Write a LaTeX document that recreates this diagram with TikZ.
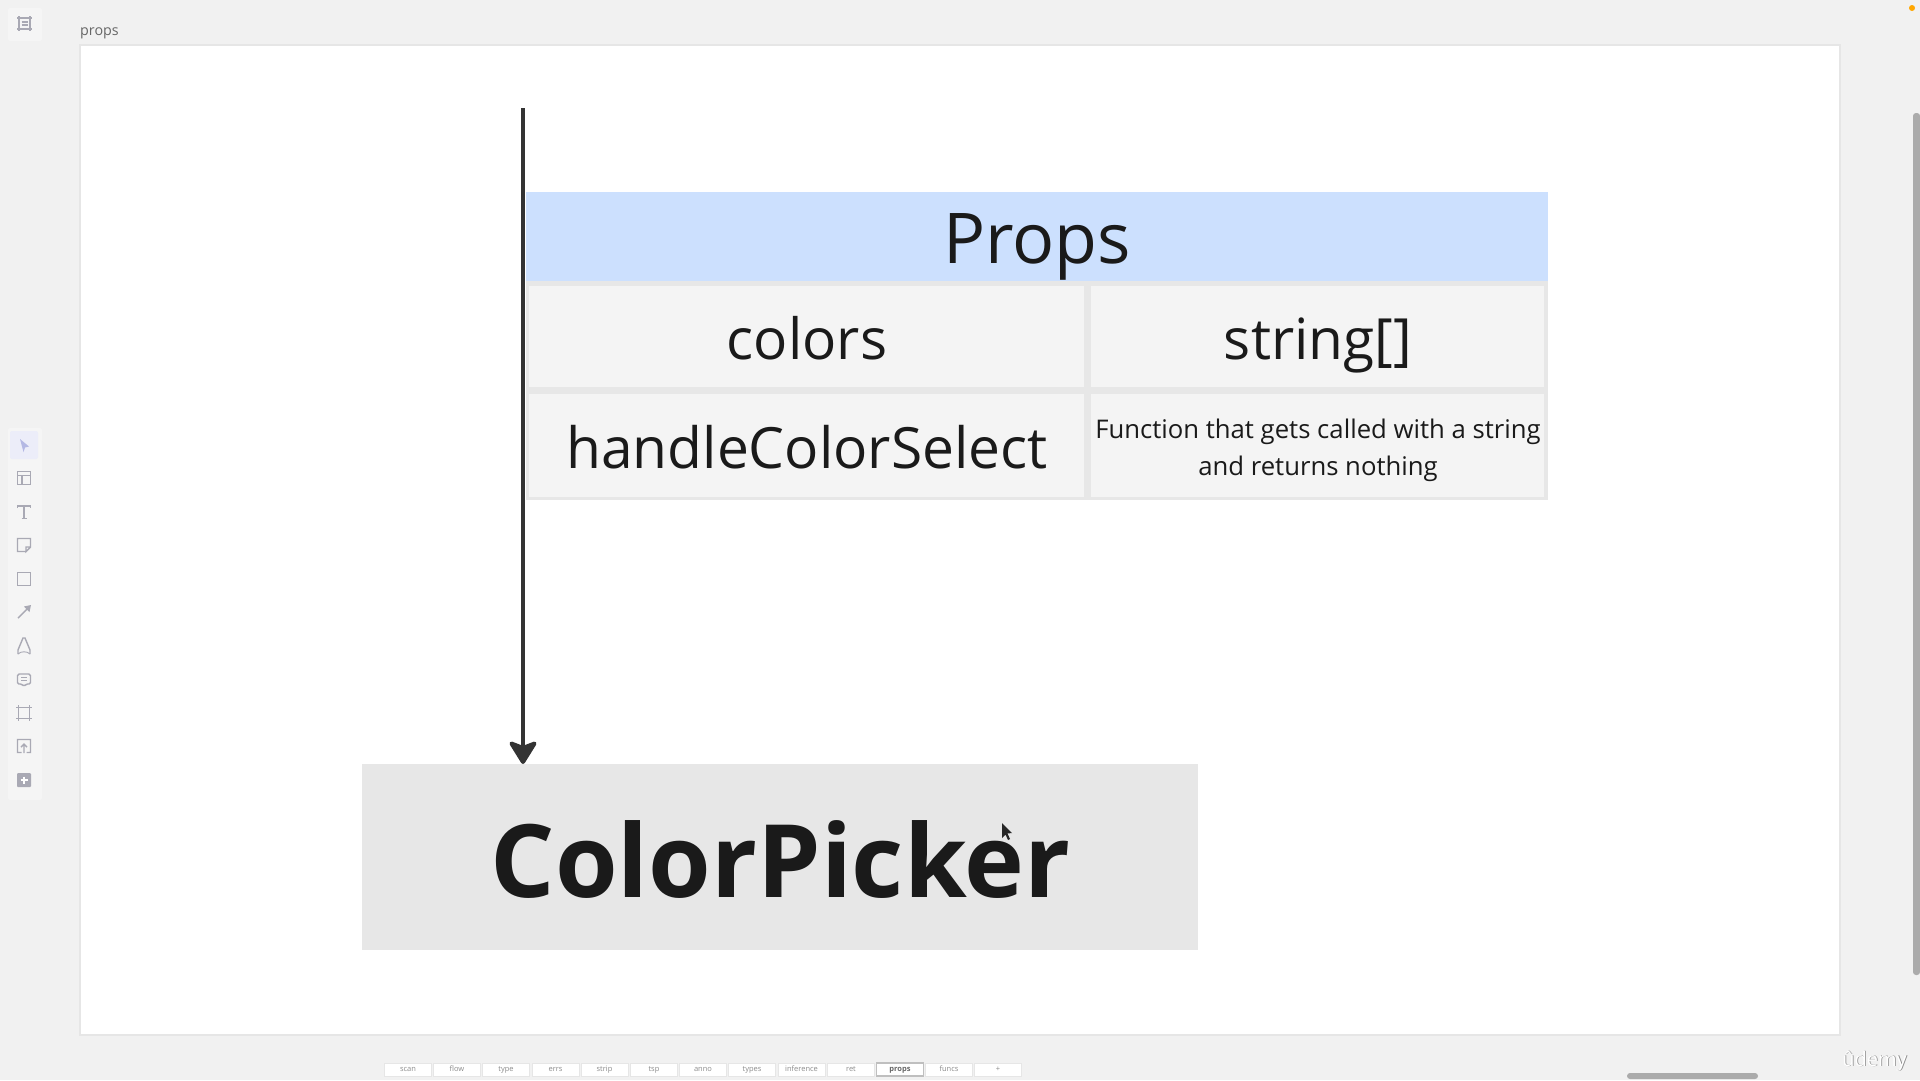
\documentclass[tikz,border=0pt]{standalone}
\usepackage{fontspec}
\setmainfont{Open Sans}
\usetikzlibrary{arrows.meta}
\definecolor{bgc}{HTML}{F1F1F1}
\definecolor{framec}{HTML}{E6E6E6}
\definecolor{headc}{HTML}{CCE0FE}
\definecolor{cellc}{HTML}{F4F4F4}
\definecolor{tblc}{HTML}{E7E7E7}
\definecolor{cpc}{HTML}{E7E7E7}
\definecolor{inkc}{HTML}{1A1A1A}
\definecolor{arrc}{HTML}{333333}
\definecolor{iconc}{HTML}{A9A9B4}
\definecolor{panelc}{HTML}{F5F5F5}
\definecolor{selc}{HTML}{ECEDF9}
\definecolor{selic}{HTML}{B4B8E4}
\definecolor{barc}{HTML}{ABABAB}
\definecolor{tabtxt}{HTML}{8C8C8C}
\tikzset{
  box/.style={inner sep=0pt,outer sep=0pt,anchor=north west},
  cellbox/.style={box,fill=cellc,align=center,text=inkc},
  label/.style={anchor=base,text=inkc,inner sep=0pt},
  icon/.style={draw=iconc,line width=1.4pt,fill=none},
  tabbox/.style={anchor=center,minimum width=47pt,minimum height=13pt,inner sep=0pt,fill=white,draw=framec,line width=0.8pt,text=tabtxt,text height=5.5pt,text depth=1.5pt,font=\fontsize{7.5}{9}\selectfont},
  panel/.style={fill=panelc,draw=none,rounded corners=2pt},
}
\newcommand{\px}[1]{\fontsize{#1}{#1}\selectfont}
\begin{document}
\begin{tikzpicture}[x=1pt,y=-1pt]
\useasboundingbox (0,0) rectangle (1920,1080);
\fill[bgc] (0,0) rectangle (1920,1080);
% artboard
\node[box,fill=white,draw=framec,line width=1.2pt,minimum width=1760pt,minimum height=990pt] (board) at (80,45) {};
\node[anchor=base west,inner sep=0pt,text=black!60,font=\px{14.3}] (boardlabel) at (80,35) {props};
% table
\node[box,fill=tblc,minimum width=1022pt,minimum height=308pt] (tbl) at (526,192) {};
\node[box,fill=headc,minimum width=1022pt,minimum height=89pt] (head) at (526,192) {};
\node[label,font=\px{70}] (headtxt) at (1037,263.5) {Props};
\node[cellbox,minimum width=555pt,minimum height=101pt] (c1) at (529,286) {};
\node[cellbox,minimum width=453pt,minimum height=101pt] (c2) at (1091,286) {};
\node[cellbox,minimum width=555pt,minimum height=103pt] (c3) at (529,394) {};
\node[cellbox,minimum width=453pt,minimum height=103pt] (c4) at (1091,394) {};
\node[label,font=\px{56.8}] (t1) at (807,359) {colors};
\node[label,font=\px{56.8}] (t2) at (1318,359) {string[]};
\node[label,font=\px{56.9}] (t3) at (807,468) {handleColorSelect};
\node[label,font=\px{25.7}] (t4a) at (1318,438) {Function that gets called with a string};
\node[label,font=\px{25.7}] (t4b) at (1318,475) {and returns nothing};
% ColorPicker
\node[box,fill=cpc,minimum width=836pt,minimum height=186pt] (cp) at (362,764) {};
\node[label,font=\px{101.3}\bfseries] (cpt) at (780.7,897) {ColorPicker};
% arrow
\coordinate (astart) at (523,108);
\draw[arrc,line width=4pt,-{Stealth[length=26pt,width=32pt,inset=6pt,round]}] (astart) -- (astart |- cp.north);
% cursor
\fill[black!85] (1002,823) -- (1002,838) -- (1005.5,834.5) -- (1008,840) -- (1010,839) -- (1007.5,833.5) -- (1012,833) -- cycle;
% left toolbars
\node[box,panel,minimum width=34pt,minimum height=33pt] (toppanel) at (8,8) {};
\node[box,panel,minimum width=34pt,minimum height=372pt] (sidepanel) at (8,428) {};
\node[box,fill=selc,rounded corners=2pt,minimum width=28pt,minimum height=28pt] (sel) at (10,431) {};
% frame icon top
\begin{scope}[shift={(24.5,23)}]
 \draw[icon] (-7.5,-5)--(7.5,-5) (-7.5,6)--(7.5,6) (-5.5,-7)--(-5.5,8) (5.5,-7)--(5.5,8) (-3,-1)--(3,-1) (-3,2)--(3,2);
\end{scope}
% cursor icon
\fill[selic] (20,439) -- (29,446.5) -- (25,447.5) -- (23.5,452) -- cycle;
% layout
\begin{scope}[shift={(24,478)}]
 \draw[icon] (-6.5,-6.5) rectangle (6.5,6.5) (-6.5,-2.5)--(6.5,-2.5) (-2,-2.5)--(-2,6.5);
\end{scope}
% T
\begin{scope}[shift={(24,512)}]
 \draw[icon] (-6.5,-4)--(-6.5,-6)--(6.5,-6)--(6.5,-4) (0,-6)--(0,6.5) (-2.5,6.5)--(2.5,6.5);
\end{scope}
% note
\begin{scope}[shift={(24,545)}]
 \draw[icon] (2,6.5)--(-6.5,6.5)--(-6.5,-6.5)--(6.5,-6.5)--(6.5,2)--(2,6.5)--(2,2)--(6.5,2);
\end{scope}
% rect
\begin{scope}[shift={(24,579)}]
 \draw[icon] (-6.5,-6.5) rectangle (6.5,6.5);
\end{scope}
% arrow icon
\begin{scope}[shift={(24,612)}]
 \draw[icon] (-6,6)--(4,-4);
 \fill[iconc] (7,-7)--(5.5,0)--(0,-5.5)--cycle;
\end{scope}
% pen
\begin{scope}[shift={(24,646)}]
 \draw[icon] (-6,8)--(-6,4)--(-1,-8)--(1,-8)--(6,4)--(6,8);
 \draw[icon,line width=0.9pt] (-6,8)..controls (-3,5) and (3,5)..(6,8);
\end{scope}
% comment
\begin{scope}[shift={(24,680)}]
 \draw[icon,rounded corners=1.5pt] (-6.5,-6)--(6.5,-6)--(6.5,4)--(2,4)--(0,6.5)--(-2,4)--(-6.5,4)--cycle;
 \draw[icon,line width=1pt] (-3,-2.5)--(3,-2.5) (-3,0.5)--(3,0.5);
\end{scope}
% frame
\begin{scope}[shift={(24,713)}]
 \draw[icon] (-8,-5.5)--(8,-5.5) (-8,5.5)--(8,5.5) (-5.5,-8)--(-5.5,8) (5.5,-8)--(5.5,8);
\end{scope}
% upload
\begin{scope}[shift={(24,746)}]
 \draw[icon] (-2.5,6.5)--(-6.5,6.5)--(-6.5,-6.5)--(6.5,-6.5)--(6.5,6.5)--(2.5,6.5) (0,7)--(0,-2) (-3,1)--(0,-2)--(3,1);
\end{scope}
% plus
\begin{scope}[shift={(24,780)}]
 \fill[iconc,rounded corners=1pt] (-7,-7) rectangle (7,7);
 \draw[white,line width=1.6pt] (-3.5,0)--(3.5,0) (0,-3.5)--(0,3.5);
\end{scope}
% tabs
\node[tabbox] (tab1) at (408,1069.5) {scan};
\node[tabbox] (tab2) at (457,1069.5) {flow};
\node[tabbox] (tab3) at (506,1069.5) {type};
\node[tabbox] (tab4) at (555.5,1069.5) {errs};
\node[tabbox] (tab5) at (604.5,1069.5) {strip};
\node[tabbox] (tab6) at (654,1069.5) {tsp};
\node[tabbox] (tab7) at (703,1069.5) {anno};
\node[tabbox] (tab8) at (752,1069.5) {types};
\node[tabbox] (tab9) at (801.5,1069.5) {inference};
\node[tabbox] (tab10) at (851,1069.5) {ret};
\node[tabbox,draw=black!25,line width=1.8pt,text=black!60,font=\fontsize{7.5}{9}\selectfont\bfseries] (tab11) at (900,1069.5) {props};
\node[tabbox] (tab12) at (949,1069.5) {funcs};
\node[tabbox] (tab13) at (998,1069.5) {+};
% scrollbars
\fill[barc,rounded corners=3pt] (1627,1073) rectangle (1758,1079);
\fill[barc,rounded corners=3pt] (1913,113) rectangle (1920,975);
\fill[orange!70!yellow] (1912,8) circle (3);
% watermark
\node[anchor=base east,inner sep=0pt,text=black!45,font=\fontsize{20}{20}\selectfont] (wms) at (1907.8,1066.8) {ûdemy};
\node[anchor=base east,inner sep=0pt,text=white,font=\fontsize{20}{20}\selectfont] (wm) at (1907,1066) {ûdemy};
\end{tikzpicture}
\end{document}
